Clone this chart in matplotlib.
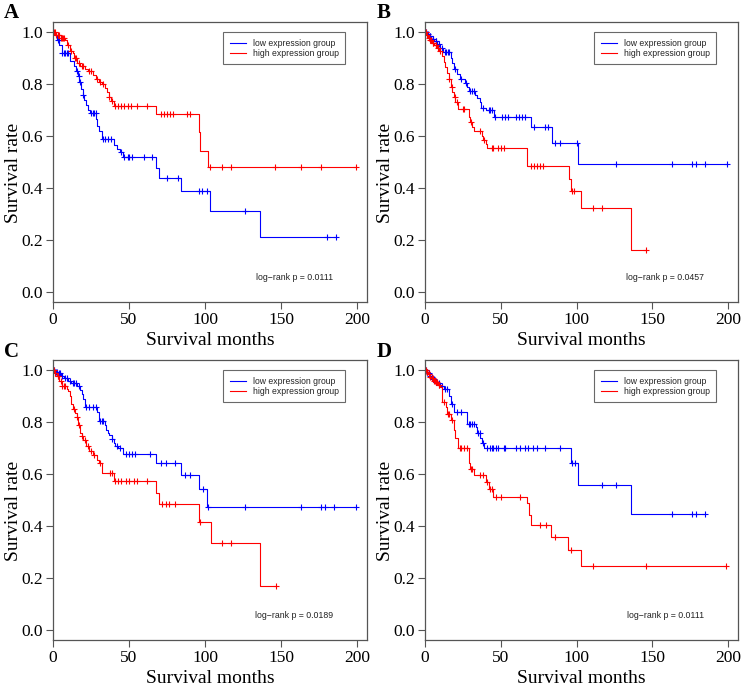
import numpy as np
import matplotlib
matplotlib.use("Agg")
import matplotlib.pyplot as plt

# ---------------- data ----------------
# Panel A
a_low_t = [1.3, 2.9, 4.2, 5.7, 11.2, 13.8, 15.1, 16.2, 17.3, 18.4, 19.5, 20.6, 21.7, 22.8, 24.4,
           28.3, 29.2, 30.5, 32, 40.4, 42, 44, 46.3, 68, 70, 84, 103, 136]
a_low_s = [0.99, 0.97, 0.95, 0.92, 0.89, 0.87, 0.85, 0.83, 0.81, 0.78, 0.76, 0.74, 0.72, 0.70, 0.69,
           0.665, 0.64, 0.62, 0.59, 0.565, 0.55, 0.54, 0.52, 0.475, 0.44, 0.39, 0.31, 0.21]
a_low_c = [3, 4, 6, 7, 8, 9, 10, 16, 17, 18, 20, 25, 26, 27, 28, 33, 34, 36, 38, 45, 47, 49, 50, 52,
           60, 65, 75, 82, 96, 98, 101, 126, 180, 186]
a_high_t = [1.5, 5, 8, 9.5, 11, 13, 14, 16, 18, 21, 23, 26, 28, 30, 32, 34, 35.5, 36.5, 38, 40,
            68, 96, 97, 102]
a_high_s = [0.99, 0.98, 0.97, 0.95, 0.93, 0.92, 0.90, 0.88, 0.87, 0.86, 0.85, 0.835, 0.82, 0.81,
            0.80, 0.785, 0.77, 0.75, 0.735, 0.717, 0.685, 0.614, 0.544, 0.479]
a_high_c = [0.5, 1, 2, 3, 3.5, 4, 5.5, 6, 6.5, 7, 10, 12, 14.5, 15, 17, 19, 20, 24, 25, 29, 31, 33,
            37, 39, 41, 43, 45, 47, 49, 51, 55, 62, 71, 73, 75, 77, 79, 88, 90, 103.5, 111, 117,
            146, 163, 176, 199.5]

# Panel B
b_low_t = [1, 2.5, 4, 6, 8, 10, 12, 17, 18, 19, 21, 23, 26.5, 28, 29, 33, 34.5, 36, 37, 40,
           45.5, 69.7, 84, 101]
b_low_s = [0.995, 0.985, 0.975, 0.965, 0.955, 0.94, 0.923, 0.90, 0.88, 0.86, 0.84, 0.82, 0.805,
           0.79, 0.775, 0.76, 0.745, 0.73, 0.71, 0.70, 0.672, 0.634, 0.573, 0.492]
b_low_c = [0.5, 1.5, 2, 3, 3.5, 5, 5.5, 7, 7.5, 9, 11, 13, 14, 15, 16, 20, 24, 27, 30, 31, 32, 38,
           42, 43, 44, 46.5, 51, 53, 55, 60, 62, 64, 66, 72, 79, 81, 86, 89, 100, 126, 163, 176,
           179, 185, 199.5]
b_high_t = [1, 2, 3, 4.5, 6, 8, 9.5, 11, 12.5, 13.5, 14.7, 15.8, 17, 18, 19, 20, 22, 29, 30, 31,
            32, 37.5, 38.5, 40, 41, 67.5, 95, 96, 103, 136]
b_high_s = [0.99, 0.98, 0.97, 0.96, 0.95, 0.94, 0.93, 0.91, 0.885, 0.865, 0.845, 0.82, 0.79, 0.77,
            0.75, 0.73, 0.705, 0.672, 0.655, 0.635, 0.621, 0.60, 0.585, 0.57, 0.555, 0.486, 0.434,
            0.389, 0.323, 0.162]
b_high_c = [0.5, 1.5, 2.5, 3.5, 4, 5, 5.5, 7, 7.5, 8.5, 10, 16, 17.5, 19.5, 21, 25, 26, 30.5, 36,
            39, 44, 45, 48, 50, 52, 70, 72, 74, 76, 78, 97, 98, 111, 117, 146]

# Panel C
c_low_t = [1, 3, 5, 7, 10, 12, 16, 18, 19, 20, 21, 29, 30, 34, 35, 36, 37, 38.6, 40, 41, 43,
           46.3, 68, 84, 96, 101.6]
c_low_s = [0.995, 0.99, 0.98, 0.97, 0.96, 0.95, 0.94, 0.925, 0.91, 0.89, 0.86, 0.84, 0.805, 0.79,
           0.77, 0.76, 0.75, 0.735, 0.72, 0.71, 0.70, 0.676, 0.641, 0.596, 0.541, 0.472]
c_low_c = [0.5, 1.5, 2, 2.5, 4, 4.5, 6, 8, 9, 11, 13, 14, 15, 17, 22, 24, 26, 28, 31, 32, 33, 39,
           42, 44, 48, 50, 52, 54, 64, 71, 74, 80, 87, 90, 98.5, 102, 126, 163, 176, 179, 185,
           199.5]
c_high_t = [1, 2.4, 4, 5.7, 9, 10, 11, 12, 13.4, 14.5, 15.6, 16.7, 18, 19, 20, 22, 24, 26.5, 29,
            30, 32, 40, 68, 70, 95.7, 103.8, 136]
c_high_s = [0.99, 0.98, 0.96, 0.94, 0.93, 0.92, 0.90, 0.87, 0.85, 0.835, 0.82, 0.79, 0.76, 0.745,
            0.731, 0.71, 0.69, 0.673, 0.655, 0.641, 0.603, 0.573, 0.528, 0.485, 0.415, 0.333,
            0.169]
c_high_c = [0.5, 1.5, 3, 3.5, 5, 6, 7, 8, 14, 16, 17, 19, 21, 23, 25, 27, 31, 37.5, 38.5, 41, 43,
            45, 48, 50, 53, 55, 62, 72, 74, 76, 80, 97, 111, 117, 146.5]

# Panel D
d_low_t = [1, 2, 3, 4, 5, 6.5, 8, 10, 12.5, 15.8, 17, 19, 28, 33.4, 34.5, 36.3, 37.4, 39, 96, 101,
           136]
d_low_s = [0.995, 0.99, 0.98, 0.975, 0.965, 0.955, 0.95, 0.94, 0.929, 0.90, 0.872, 0.84, 0.795,
           0.78, 0.76, 0.74, 0.72, 0.701, 0.641, 0.558, 0.445]
d_low_c = [0.5, 1.5, 2.5, 3.5, 4.5, 5.5, 6, 7, 7.5, 9, 11, 13.5, 14.5, 18, 21, 24, 29, 30, 31, 32,
           35, 36, 38, 41, 43, 44, 45, 47, 48, 52, 53, 60, 63, 66, 68, 71, 74, 79, 89, 97, 99,
           117, 126, 163, 176, 179, 185]
d_high_t = [1, 2, 3, 4, 5.5, 7, 8.5, 10, 11.4, 13.6, 14.7, 17, 19, 20, 21.8, 29, 30, 32.3, 40,
            42.2, 45, 67.5, 68.6, 69.7, 82.9, 94.5, 103]
d_high_s = [0.995, 0.985, 0.975, 0.97, 0.96, 0.955, 0.945, 0.935, 0.878, 0.858, 0.833, 0.81, 0.77,
            0.74, 0.70, 0.641, 0.62, 0.596, 0.571, 0.542, 0.513, 0.49, 0.442, 0.404, 0.359, 0.308,
            0.244]
d_high_c = [0.5, 1, 1.5, 2.5, 3.5, 4.5, 5, 6, 6.5, 7.5, 8, 9, 9.5, 12.5, 15, 16, 18, 23, 24, 26,
            28, 30.5, 31, 36, 38, 41, 43, 44, 47, 50, 63, 76, 80, 86, 96, 111, 146, 198.5]

panel_letters = ["A", "B", "C", "D"]
p_values = ["0.0111", "0.0457", "0.0189", "0.0111"]
x_ticks = [0, 50, 100, 150, 200]
y_ticks = [0.0, 0.2, 0.4, 0.6, 0.8, 1.0]
series_labels = ["low expression group", "high expression group"]

panels = [
    ((a_low_t, a_low_s, a_low_c), (a_high_t, a_high_s, a_high_c)),
    ((b_low_t, b_low_s, b_low_c), (b_high_t, b_high_s, b_high_c)),
    ((c_low_t, c_low_s, c_low_c), (c_high_t, c_high_s, c_high_c)),
    ((d_low_t, d_low_s, d_low_c), (d_high_t, d_high_s, d_high_c)),
]

# ---------------- drawing ----------------
SERIF = ["Liberation Serif", "DejaVu Serif"]
SANS = ["Liberation Sans", "DejaVu Sans"]
COLORS = ["#0000ff", "#ff0000"]
FRAME = "#555555"

W, H = 750, 694
fig = plt.figure(figsize=(W / 100, H / 100), dpi=100)

# axes boxes in pixels (left, top, right, bottom)
boxes = [(53, 22, 367, 302), (425, 22, 738, 302), (53, 360, 367, 640), (425, 360, 738, 640)]
letter_pos = [(4, 13), (377, 13), (4, 352), (377, 352)]


def km_draw(ax, t, s, c, color):
    t = np.asarray(t, float)
    s = np.asarray(s, float)
    c = np.asarray(c, float)
    end = max(t.max(), c.max())
    xs = np.concatenate([[0], t, [end]])
    ys = np.concatenate([[1.0], s, [s[-1]]])
    ax.step(xs, ys, where="post", color=color, lw=0.8)
    idx = np.searchsorted(t, c, side="right")
    sv = np.where(idx == 0, 1.0, s[np.maximum(idx - 1, 0)])
    ax.plot(c, sv, linestyle="none", marker="+", color=color, ms=5, mew=0.8)


for i, (box, pdata) in enumerate(zip(boxes, panels)):
    l, t, r, b = box
    ax = fig.add_axes([l / W, 1 - b / H, (r - l) / W, (b - t) / H])
    handles = []
    for (tt, ss, cc), col, lab in zip(pdata, COLORS, series_labels):
        km_draw(ax, tt, ss, cc, col)
        handles.append(plt.Line2D([], [], color=col, lw=0.8, label=lab))
    ax.set_xlim(0, 206.5)
    ax.set_ylim(-0.04, 1.04)
    ax.set_xticks(x_ticks)
    ax.set_xticklabels([str(v) for v in x_ticks], fontfamily=SERIF, fontsize=12.5)
    ax.set_yticks(y_ticks)
    ax.set_yticklabels([f"{v:.1f}" for v in y_ticks], fontfamily=SERIF, fontsize=12.5)
    ax.tick_params(direction="out", length=5, width=0.8, color=FRAME, pad=2.5, labelcolor="black")
    for sp in ax.spines.values():
        sp.set_color(FRAME)
        sp.set_linewidth(0.9)
    xl = ax.set_xlabel("Survival months", fontfamily=SERIF, fontsize=14)
    ax.xaxis.set_label_coords(0.5, -0.136)
    xl.set_va("center")
    yl = ax.set_ylabel("Survival rate", fontfamily=SERIF, fontsize=14)
    ax.yaxis.set_label_coords(-0.126, 0.46)
    yl.set_va("center")
    leg = ax.legend(handles=handles, loc="upper right", bbox_to_anchor=(0.931, 0.964),
                    borderaxespad=0, fancybox=False, frameon=True, handlelength=1.9,
                    handletextpad=0.8, borderpad=0.75, labelspacing=0.15,
                    prop={"family": SANS, "size": 6.2})
    leg.get_frame().set_edgecolor("#444444")
    leg.get_frame().set_linewidth(0.8)
    for txt in leg.get_texts():
        txt.set_color("#222222")
    ax.text(0.768, 0.089, f"log\u2212rank p = {p_values[i]}", transform=ax.transAxes,
            ha="center", va="center", fontfamily=SANS, fontsize=6.3, color="#222222")
    lx, ly = letter_pos[i]
    fig.text(lx / W, 1 - ly / H, panel_letters[i], fontfamily=SERIF, fontsize=15,
             fontweight="bold", ha="left", va="center")

fig.savefig("out.png", dpi=100)
